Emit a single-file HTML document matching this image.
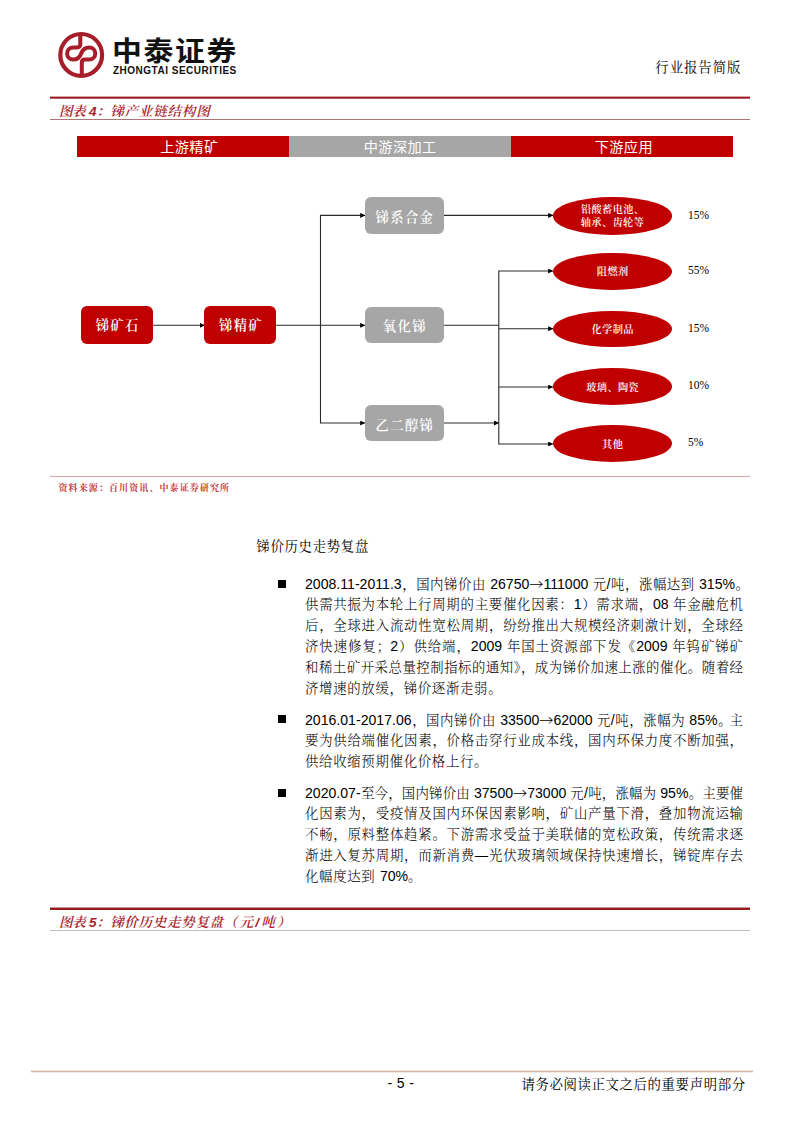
<!DOCTYPE html>
<html lang="zh-CN">
<head>
<meta charset="utf-8">
<title>锑产业链结构图</title>
<style>
html,body{margin:0;padding:0;background:#fff;}
body{width:800px;height:1131px;position:relative;overflow:hidden;font-family:"Liberation Sans","Noto Serif CJK SC",serif;color:#000;}
.abs{position:absolute;white-space:nowrap;}
.kai{font-family:"Liberation Sans","Noto Serif CJK SC",serif;}
.hei{font-family:"Liberation Sans","Noto Sans CJK SC",sans-serif;}
.line{position:absolute;left:50px;width:700px;}
.thick{height:2px;background:#9c1a1f;}
.thin{height:1px;background:#a77;}
.cap{position:absolute;left:59px;font-size:13.6px;font-style:italic;color:#a8232b;white-space:nowrap;font-family:"Liberation Sans","Noto Serif CJK SC",serif;font-weight:600;}
.cap b{font-weight:700;font-family:"Liberation Sans",sans-serif;}
.tab{position:absolute;top:136px;height:21px;line-height:21px;color:#fff;font-size:14.2px;letter-spacing:0.4px;text-indent:0.4px;text-align:center;font-family:"Liberation Sans","Noto Sans CJK SC",sans-serif;font-weight:400;box-sizing:border-box;line-height:22px;}
.red{background:#c00000;}
.gray{background:#a6a6a6;}
.box{position:absolute;overflow:hidden;border-radius:6px;color:#fff;text-align:center;font-family:"Liberation Sans","Noto Serif CJK SC",serif;font-size:13.3px;font-weight:600;letter-spacing:1.4px;text-indent:1.4px;}
.ell{position:absolute;border-radius:50%;background:#c00000;color:#fff;text-align:center;font-family:"Liberation Sans","Noto Serif CJK SC",serif;font-size:10.2px;font-weight:600;letter-spacing:0.4px;text-indent:0.4px;box-sizing:border-box;padding-top:1.5px;display:flex;align-items:center;justify-content:center;line-height:12.7px;}
.pct{position:absolute;font-family:"Liberation Serif",serif;font-size:11.5px;color:#000;}
.body{position:absolute;left:305px;width:438px;font-size:13.4px;line-height:21px;height:21px;white-space:nowrap;text-align:justify;text-align-last:justify;font-family:"Liberation Sans","Noto Serif CJK SC",serif;font-weight:300;color:#000;}
.body.last{text-align:left;text-align-last:left;letter-spacing:0.7px;}
.l{font-size:14.1px;letter-spacing:0;}
.ar{font-family:"Noto Sans CJK SC",sans-serif;}
.bul{position:absolute;left:277.5px;width:8.3px;height:8.3px;background:#000;}
</style>
</head>
<body>

<!-- logo -->
<svg class="abs" style="left:55px;top:29px" width="52" height="52" viewBox="55 29 52 52">
  <circle cx="81.2" cy="54.9" r="20.9" fill="none" stroke="#a81d2a" stroke-width="4.2"/>
  <path d="M80.3,35 V44.3 Q80.3,47.4 77.200,47.4 H73.2 A6.1,6.05 0 0 0 73.2,59.5 C78,59.5 79.800,57.300 81.2,53.45 C82.600,49.600 84.4,47.4 89.2,47.4 A6.1,6.05 0 0 1 89.2,59.5 H85 Q81.800,59.5 81.800,62.6 V75" fill="none" stroke="#a81d2a" stroke-width="4"/>
</svg>
<div class="abs hei" id="logocn" style="left:111.5px;top:31.500px;font-size:27px;line-height:40px;font-weight:700;letter-spacing:1.5px;color:#111;transform-origin:0 0;transform:scaleX(1.105);">中泰证券</div>
<div class="abs" id="logoen" style="left:113px;top:64px;font-size:10px;line-height:14px;font-weight:700;letter-spacing:0.5px;color:#111;font-family:'Liberation Sans',sans-serif;">ZHONGTAI SECURITIES</div>

<div class="abs kai" id="hdr" style="left:655.3px;top:57.5px;font-size:13.4px;line-height:20px;letter-spacing:0.95px;">行业报告简版</div>

<!-- figure 4 caption -->
<div class="line" style="top:96px;height:3px;background:linear-gradient(#d7a3a5 0 33.3%,#9c1a1f 33.3% 66.6%,#b85e61 66.6% 100%)"></div>
<div class="cap" id="cap4" style="top:101.500px;line-height:19px;"><span style="letter-spacing:-0.5px">图表</span> <b>4</b>：<span style="letter-spacing:0.75px">锑产业链结构图</span></div>
<div class="line thin" style="top:119px"></div>

<!-- tabs -->
<div class="tab red" style="left:77px;width:212.3px;padding-left:12px;">上游精矿</div>
<div class="tab gray" style="left:289px;width:222px;">中游深加工</div>
<div class="tab red" style="left:511px;width:222.3px;padding-left:3px;">下游应用</div>

<!-- diagram lines -->
<svg class="abs" style="left:0;top:180px" width="800" height="300" viewBox="0 180 800 300">
  <defs>
    <marker id="ah" markerWidth="5" markerHeight="5" refX="4.8" refY="2.5" orient="auto" markerUnits="userSpaceOnUse">
      <path d="M0,0 L5,2.5 L0,5 Z" fill="#000"/>
    </marker>
  </defs>
  <g fill="none" stroke="#2a2a2a" stroke-width="1.1">
    <path d="M153,325.3 H204.5" marker-end="url(#ah)"/>
    <path d="M276,325.3 H365" marker-end="url(#ah)"/>
    <path d="M320.5,325.3 V215.4 H365" marker-end="url(#ah)"/>
    <path d="M320.5,325.3 V423 H365" marker-end="url(#ah)"/>
    <path d="M444,215.4 H553" marker-end="url(#ah)"/>
    <path d="M444,325.3 H498.8"/>
    <path d="M498.800,328.7 H553" marker-end="url(#ah)"/>
    <path d="M498.8,328.7 V271 H553" marker-end="url(#ah)"/>
    <path d="M498.8,328.7 V444 H553" marker-end="url(#ah)"/>
    <path d="M498.8,387 H553" marker-end="url(#ah)"/>
    <path d="M444,423 H498.8" marker-end="url(#ah)"/>
  </g>
</svg>

<!-- boxes -->
<div class="box red" style="left:81px;top:306px;width:72px;height:37.500px;line-height:39.5px;">锑矿石</div>
<div class="box red" style="left:204.3px;top:306px;width:72px;height:37.5px;line-height:39.5px;">锑精矿</div>
<div class="box gray" style="left:364.7px;top:197px;width:79px;height:36.7px;line-height:41.7px;">锑系合金</div>
<div class="box gray" style="left:364.7px;top:306.5px;width:79px;height:36px;line-height:40.5px;">氧化锑</div>
<div class="box gray" style="left:364.7px;top:404.700px;width:79px;height:36.3px;line-height:42.3px;">乙二醇锑</div>

<!-- ellipses -->
<div class="ell" style="left:553px;top:197px;width:119px;height:37.5px;">铅酸蓄电池、<br>轴承、齿轮等</div>
<div class="ell" style="left:553px;top:252.5px;width:119px;height:37.5px;">阻燃剂</div>
<div class="ell" style="left:553px;top:311.2px;width:119px;height:36px;">化学制品</div>
<div class="ell" style="left:553px;top:368.2px;width:119px;height:36.500px;padding-top:4.5px;">玻璃、陶瓷</div>
<div class="ell" style="left:553px;top:425px;width:119px;height:36.800px;padding-top:4.5px;">其他</div>

<div class="pct" style="left:688px;top:209px;">15%</div>
<div class="pct" style="left:688px;top:264px;">55%</div>
<div class="pct" style="left:688px;top:322px;">15%</div>
<div class="pct" style="left:688px;top:379px;">10%</div>
<div class="pct" style="left:688px;top:436px;">5%</div>

<!-- source -->
<div class="line" style="top:476px;height:1px;background:#d9a3a8;"></div>
<div class="abs kai" id="src" style="left:58.5px;top:480.5px;font-size:9px;line-height:14px;color:#c4373c;font-weight:700;letter-spacing:1.1px;">资料来源：百川资讯、中泰证券研究所</div>

<!-- body -->
<div class="abs kai" id="h2" style="left:256.3px;top:536px;font-size:13.4px;letter-spacing:0.7px;line-height:21px;">锑价历史走势复盘</div>

<div class="bul" style="top:579.5px"></div>
<div class="body" style="top:573px;width:444px"><span class="l">2008.11-2011.3</span>，国内锑价由 <span class="l">26750<span class="ar">→</span>111000</span> 元<span class="l">/</span>吨，涨幅达到 <span class="l">315%</span>。</div>
<div class="body" style="top:594px">供需共振为本轮上行周期的主要催化因素：<span class="l">1</span>）需求端，<span class="l">08</span> 年金融危机</div>
<div class="body" style="top:614.5px">后，全球进入流动性宽松周期，纷纷推出大规模经济刺激计划，全球经</div>
<div class="body" style="top:635.5px">济快速修复；<span class="l">2</span>）供给端，<span class="l">2009</span> 年国土资源部下发《<span class="l">2009</span> 年钨矿锑矿</div>
<div class="body" style="top:656.7px">和稀土矿开采总量控制指标的通知》，成为锑价加速上涨的催化。随着经</div>
<div class="body last" style="top:677.7px">济增速的放缓，锑价逐渐走弱。</div>

<div class="bul" style="top:715px"></div>
<div class="body" style="top:708.8px"><span class="l">2016.01-2017.06</span>，国内锑价由 <span class="l">33500<span class="ar">→</span>62000</span> 元<span class="l">/</span>吨，涨幅为 <span class="l">85%</span><span style="margin-right:-2.5px">。</span>主</div>
<div class="body" style="top:729.7px">要为供给端催化因素，价格击穿行业成本线，国内环保力度不断加强，</div>
<div class="body last" style="top:750.7px">供给收缩预期催化价格上行。</div>

<div class="bul" style="top:788.5px"></div>
<div class="body" style="top:782.2px"><span class="l">2020.07-</span>至今，国内锑价由 <span class="l">37500<span class="ar">→</span>73000</span> 元<span class="l">/</span>吨，涨幅为 <span class="l">95%</span>。主要催</div>
<div class="body" style="top:803.1px">化因素为，受疫情及国内环保因素影响，矿山产量下滑，叠加物流运输</div>
<div class="body" style="top:824.2px">不畅，原料整体趋紧。下游需求受益于美联储的宽松政策，传统需求逐</div>
<div class="body" style="top:845.2px">渐进入复苏周期，而新消费—光伏玻璃领域保持快速增长，锑锭库存去</div>
<div class="body last" style="top:865.7px">化幅度达到 <span class="l">70%</span>。</div>

<!-- figure 5 caption -->
<div class="line" style="top:907px;height:3px;background:linear-gradient(#cf9093 0 33.3%,#9c1a1f 33.3% 100%)"></div>
<div class="cap" id="cap5" style="top:912.5px;line-height:19px;"><span style="letter-spacing:-0.5px">图表</span> <b>5</b>：<span style="letter-spacing:0.6px">锑价历史走势复盘</span><span style="letter-spacing:2.2px">（元<b>/</b>吨）</span></div>
<div class="line thin" style="top:930px;background:#bdbdbd"></div>

<!-- footer -->
<div class="abs" style="left:31px;top:1070px;width:722px;height:3px;background:linear-gradient(#f1e4dc 0 33.3%,#d9b9a5 33.3% 66.6%,#f3e9e2 66.6% 100%);"></div>
<div class="abs" id="pg" style="left:387.5px;top:1074px;font-size:14px;word-spacing:0.8px;line-height:18px;font-family:'Liberation Sans',sans-serif;">- 5 -</div>
<div class="abs kai" id="ft" style="left:521.5px;top:1074.5px;font-size:13.4px;letter-spacing:0.62px;line-height:20px;">请务必阅读正文之后的重要声明部分</div>

</body>
</html>
